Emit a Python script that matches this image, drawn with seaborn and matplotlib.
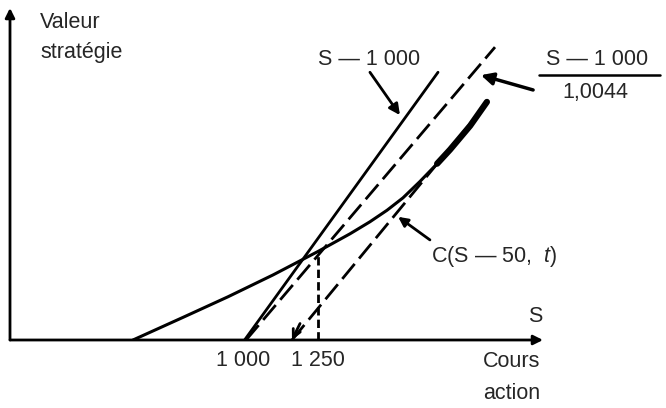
import numpy as np
import matplotlib
matplotlib.use("Agg")
import matplotlib.pyplot as plt
import seaborn as sns

# ==================== DONNÉES ====================
# droite S - 1 000
s_intr = [1005, 1650]
v_intr = [0, 650]
# droite (S - 1 000) / 1,0044 (tirets)
s_actu = [1010, 1840]
v_actu = [0, 711]
# asymptote basse (tirets, flèche vers l'axe)
s_asym = [1163, 1817]
v_asym = [0, 578]
# courbe C(S - 50, t)
s_call = [633, 800, 950, 1100, 1250, 1357, 1423, 1480, 1533, 1590, 1647, 1690, 1757, 1813]
v_call = [0, 55, 105, 158, 215, 258, 287, 315, 345, 385, 428, 462, 520, 578]
# verticale en S = 1 250
s_vert = [1250, 1250]
v_vert = [0, 215]

xticks = [1000, 1250]
xtick_labels = ["1 000", "1 250"]

# ==================== STYLE ====================
sns.set_theme(style="white")
plt.rcParams["font.family"] = ["Liberation Sans", "DejaVu Sans"]
plt.rcParams["mathtext.fontset"] = "custom"
plt.rcParams["mathtext.it"] = "Liberation Sans:italic"
plt.rcParams["mathtext.rm"] = "Liberation Sans"
FS = 15.5

fig = plt.figure(figsize=(6.66, 4.08), dpi=100)
ax = fig.add_axes([10 / 666, 68 / 408, 533 / 666, 332 / 408])
ax.set_xlim(223, 2000)
ax.set_ylim(0, 806)
for sp in ax.spines.values():
    sp.set_visible(False)

# axes avec flèches
ax.annotate("", xy=(1, 0), xytext=(0, 0), xycoords="axes fraction",
            arrowprops=dict(arrowstyle="-|>", lw=2, color="black",
                            mutation_scale=14, shrinkA=0, shrinkB=0))
ax.annotate("", xy=(0, 1), xytext=(0, 0), xycoords="axes fraction",
            arrowprops=dict(arrowstyle="-|>", lw=2, color="black",
                            mutation_scale=14, shrinkA=0, shrinkB=0))

# ==================== COURBES ====================
sns.lineplot(x=s_intr, y=v_intr, ax=ax, color="black", lw=2)
sns.lineplot(x=s_actu, y=v_actu, ax=ax, color="black", lw=2,
             linestyle=(0, (7, 2.5)))
sns.lineplot(x=s_asym, y=v_asym, ax=ax, color="black", lw=2,
             linestyle=(0, (7, 2.5)))
sns.lineplot(x=s_call, y=v_call, ax=ax, color="black", lw=2.2)
# partie haute plus épaisse (la courbe rejoint l'asymptote)
sns.lineplot(x=s_call[-4:], y=v_call[-4:], ax=ax, color="black", lw=4.5)
ax.plot(s_vert, v_vert, color="black", lw=2, linestyle=(0, (3, 1.5)))

# flèche au pied de l'asymptote
ax.annotate("", xy=(s_asym[0], v_asym[0]), xytext=(1190, 40),
            arrowprops=dict(arrowstyle="->", lw=2, color="black",
                            mutation_scale=14, shrinkA=0, shrinkB=0))

# ==================== TEXTES ====================
ax.set_xticks(xticks)
ax.set_xticklabels(xtick_labels, fontsize=FS)
ax.tick_params(axis="x", length=0, pad=7)
ax.set_yticks([])

ax.text(323, 757, "Valeur", fontsize=FS, va="baseline", ha="left")
ax.text(323, 684, "stratégie", fontsize=FS, va="baseline", ha="left")

ax.text(1973, 44, "S", fontsize=FS, ha="center", va="baseline", clip_on=False)
ax.text(1990, -66, "Cours", fontsize=FS, ha="right", va="baseline", clip_on=False)
ax.text(1990, -143, "action", fontsize=FS, ha="right", va="baseline", clip_on=False)

# S - 1 000
ax.text(1420, 667, "S — 1 000", fontsize=FS, ha="center", va="baseline")
ax.annotate("", xy=(1523, 546), xytext=(1423, 650),
            arrowprops=dict(arrowstyle="-|>", lw=2, color="black",
                            mutation_scale=16, shrinkA=0, shrinkB=0))

# (S - 1 000) / 1,0044
ax.text(2180, 667, "S — 1 000", fontsize=FS, ha="center", va="baseline",
        clip_on=False)
ax.plot([1985, 2390], [643, 643], color="black", lw=1.8, clip_on=False)
ax.text(2173, 587, "1,0044", fontsize=FS, ha="center", va="baseline",
        clip_on=False)
ax.annotate("", xy=(1793, 643), xytext=(1967, 607),
            arrowprops=dict(arrowstyle="-|>", lw=2.5, color="black",
                            mutation_scale=18, shrinkA=0, shrinkB=0),
            annotation_clip=False)

# C(S - 50, t)
ax.text(1627, 189, "C(S — 50,  $t$)", fontsize=FS, ha="left", va="baseline",
        clip_on=False)
ax.annotate("", xy=(1517, 299), xytext=(1623, 243),
            arrowprops=dict(arrowstyle="-|>", lw=2, color="black",
                            mutation_scale=14, shrinkA=0, shrinkB=0))

plt.savefig("out.png", dpi=100)
